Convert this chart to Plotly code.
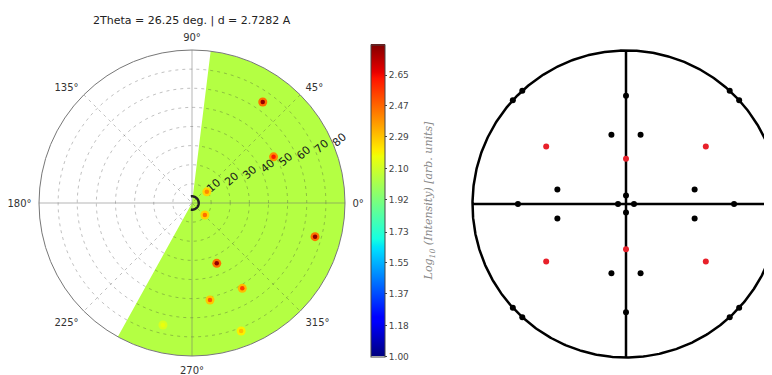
import numpy as np
import plotly.graph_objects as go

# ---------------- data ----------------
title_text = "2Theta = 26.25 deg. | d = 2.7282 A"

# measured sector (azimuth range of the map), background log-intensity
sector_start = -119.0
sector_end = 83.0
background_level = 2.04

# diffraction spots on the pole figure (r = tilt, theta = azimuth, deg)
spot_r = [64.5, 49.0, 9.7, 9.2, 66.7, 34.1, 51.8, 51.6, 71.7, 65.6]
spot_theta = [55.0, 29.5, 37.0, -43.0, -15.3, -67.7, -59.5, -79.5, -69.0, -103.4]
spot_peak = [2.80, 2.62, 2.40, 2.45, 2.80, 2.80, 2.55, 2.50, 2.30, 2.16]
spot_halo = [2.45, 2.40, 2.25, 2.25, 2.45, 2.45, 2.30, 2.28, 2.20, 2.12]

radial_ticks = [10, 20, 30, 40, 50, 60, 70, 80]
angular_ticks = [0, 45, 90, 135, 180, 225, 270, 315]
angular_labels = ["0°", "45°", "90°", "135°", "180°", "225°", "270°", "315°"]

cbar_min, cbar_max = 1.0, 2.83
cbar_ticks = [1.00, 1.18, 1.37, 1.55, 1.73, 1.92, 2.10, 2.29, 2.47, 2.65]
cbar_ticktext = ["1.00", "1.18", "1.37", "1.55", "1.73", "1.92", "2.10", "2.29", "2.47", "2.65"]

# stereographic projection (unit circle coordinates)
black_x = [0.0, 0.0, -0.095, 0.095, -0.095, 0.095, -0.447, 0.447, -0.447, 0.447,
           0.0, 0.0, -0.704, 0.704, -0.052, 0.052]
black_y = [0.706, -0.706, 0.451, 0.451, -0.451, -0.451, 0.095, 0.095, -0.095, -0.095,
           0.055, -0.055, 0.0, 0.0, 0.0, 0.0]
rim_angles = [42.5, 47.5, 132.5, 137.5, 222.5, 227.5, 312.5, 317.5]
red_x = [-0.52, 0.52, -0.52, 0.52, 0.0, 0.0]
red_y = [0.375, 0.375, -0.375, -0.375, 0.294, -0.294]

# ---------------- style helpers ----------------
def mpl_jet():
    seg = {
        "r": [(0, 0), (0.35, 0), (0.66, 1), (0.89, 1), (1, 0.5)],
        "g": [(0, 0), (0.125, 0), (0.375, 1), (0.64, 1), (0.91, 0), (1, 0)],
        "b": [(0, 0.5), (0.11, 1), (0.34, 1), (0.65, 0), (1, 0)],
    }
    stops = sorted({p for c in seg.values() for p, _ in c})
    out = []
    for s in stops:
        rgb = [np.interp(s, [p for p, _ in seg[c]], [v for _, v in seg[c]]) for c in "rgb"]
        out.append([s, "rgb(%d,%d,%d)" % tuple(int(round(v * 255)) for v in rgb)])
    return out

W, H = 772, 375
OFF = 8                                   # page body margin
pcx, pcy, pR = 192 - OFF, 203 - OFF, 153  # polar centre / radius (paper px)
scx, scy, sR = 626 - OFF, 204 - OFF, 153.5

fig = go.Figure()

# sector background
width = sector_end - sector_start
fig.add_trace(go.Barpolar(
    r=[radial_ticks[-1]], theta=[(sector_start + sector_end) / 2], width=[width],
    base=0, marker=dict(color=[background_level], coloraxis="coloraxis", line_width=0),
    hoverinfo="skip", subplot="polar"))

# grid lines drawn above the map
grid_col = "rgba(60,60,60,0.32)"
tt = np.linspace(0, 360, 361)
for rr in radial_ticks[:-1]:
    fig.add_trace(go.Scatterpolar(r=[rr] * len(tt), theta=tt, mode="lines",
                                  line=dict(color=grid_col, width=1, dash="3px,4px"),
                                  hoverinfo="skip", subplot="polar"))
for a in [45, 135]:
    fig.add_trace(go.Scatterpolar(r=[80, 0, 80], theta=[a, a, a + 180], mode="lines",
                                  line=dict(color=grid_col, width=1, dash="3px,4px"),
                                  hoverinfo="skip", subplot="polar"))
for a in [0, 90]:
    fig.add_trace(go.Scatterpolar(r=[80, 0, 80], theta=[a, a, a + 180], mode="lines",
                                  line=dict(color="rgba(110,110,110,0.5)", width=1),
                                  hoverinfo="skip", subplot="polar"))

# spots: halo + core
fig.add_trace(go.Scatterpolar(r=spot_r, theta=spot_theta, mode="markers",
                              marker=dict(size=9, color=spot_halo, coloraxis="coloraxis", line_width=0),
                              hoverinfo="skip", subplot="polar"))
fig.add_trace(go.Scatterpolar(r=spot_r, theta=spot_theta, mode="markers",
                              marker=dict(size=4.5, color=spot_peak, coloraxis="coloraxis", line_width=0),
                              subplot="polar"))

# inner hole arc
arc = np.linspace(-100, 100, 60)
fig.add_trace(go.Scatterpolar(r=[3.5] * len(arc), theta=arc, mode="lines",
                              line=dict(color="#222", width=2.5), hoverinfo="skip", subplot="polar"))

# ---------------- stereogram ----------------
ct = np.linspace(0, 2 * np.pi, 721)
fig.add_trace(go.Scatter(x=np.cos(ct), y=np.sin(ct), mode="lines",
                         line=dict(color="black", width=2.5), xaxis="x", yaxis="y", hoverinfo="skip"))
fig.add_trace(go.Scatter(x=[-1, 1], y=[0, 0], mode="lines", line=dict(color="black", width=2.5),
                         xaxis="x", yaxis="y", hoverinfo="skip"))
fig.add_trace(go.Scatter(x=[0, 0], y=[-1, 1], mode="lines", line=dict(color="black", width=2.5),
                         xaxis="x", yaxis="y", hoverinfo="skip"))
rim = np.radians(rim_angles)
fig.add_trace(go.Scatter(x=list(black_x) + list(np.cos(rim)), y=list(black_y) + list(np.sin(rim)),
                         mode="markers", marker=dict(color="black", size=6),
                         xaxis="x", yaxis="y"))
fig.add_trace(go.Scatter(x=red_x, y=red_y, mode="markers", marker=dict(color="#e8202a", size=6),
                         xaxis="x", yaxis="y"))

x0p = 458
pad = "&nbsp;" * 4
fig.update_layout(
    width=W, height=H, margin=dict(l=0, r=0, t=0, b=0),
    paper_bgcolor="white", plot_bgcolor="white", showlegend=False,
    font=dict(family="DejaVu Sans", size=10, color="#333"),
    polar=dict(
        domain=dict(x=[(pcx - pR) / W, (pcx + pR) / W], y=[1 - (pcy + pR) / H, 1 - (pcy - pR) / H]),
        bgcolor="white",
        angularaxis=dict(rotation=0, direction="counterclockwise", tickmode="array",
                         tickvals=angular_ticks, ticktext=angular_labels, showgrid=False,
                         ticks="outside", ticklen=5, tickcolor="rgba(0,0,0,0)",
                         showline=True, linecolor="#777", linewidth=1,
                         layer="above traces", tickfont=dict(size=10, color="#333")),
        radialaxis=dict(range=[0, 80], angle=20, tickangle=-21, tickmode="array",
                        tickvals=radial_ticks, showgrid=False, showline=False, ticks="",
                        side="counterclockwise", layer="above traces",
                        tickfont=dict(size=11, color="#1a1a1a")),
    ),
    coloraxis=dict(
        colorscale=mpl_jet(), cmin=cbar_min, cmax=cbar_max,
        colorbar=dict(x=(371 - OFF) / W, xanchor="left", xpad=0, ypad=0, thickness=14,
                      lenmode="pixels", len=312, y=1 - (200.5 - OFF) / H, yanchor="middle",
                      tickmode="array", tickvals=cbar_ticks,
                      ticktext=[t + pad for t in cbar_ticktext],
                      ticks="outside", ticklen=2, tickcolor="#444",
                      outlinewidth=1, outlinecolor="#444",
                      tickfont=dict(size=9, color="#444"),
                      title=dict(text="<i>Log<sub>10</sub> (Intensity) [arb. units]</i>", side="right",
                                 font=dict(family="DejaVu Serif", size=11, color="#888"))),
    ),
    xaxis=dict(domain=[x0p / W, 1], range=[(x0p - scx) / sR, (W - scx) / sR], visible=False),
    yaxis=dict(domain=[0, 1], range=[(scy - H) / sR, scy / sR], visible=False),
    annotations=[dict(text=title_text, x=pcx / W, y=1 - (20 - OFF) / H, xref="paper", yref="paper",
                      xanchor="center", yanchor="middle",
                      showarrow=False, font=dict(size=11, color="#222"))],
)

fig.write_html("out.html")
